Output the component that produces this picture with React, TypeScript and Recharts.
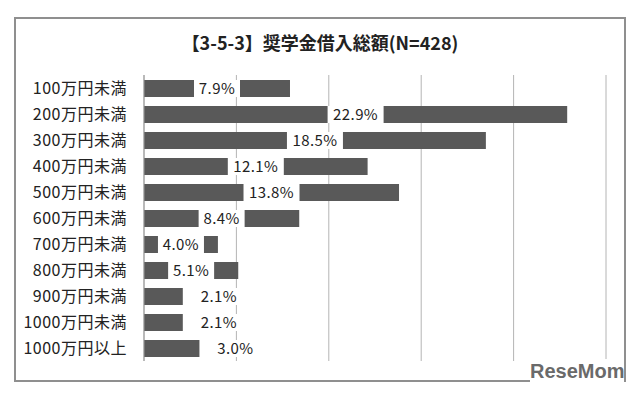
import React from "react";
import { Bar, BarChart, CartesianGrid, LabelList, XAxis, YAxis } from "recharts";

// ---------------------------------------------------------------------------
// Data
// ---------------------------------------------------------------------------

const TITLE = "【3-5-3】奨学金借入総額(N=428)";

const CATEGORIES = [
  "100万円未満",
  "200万円未満",
  "300万円未満",
  "400万円未満",
  "500万円未満",
  "600万円未満",
  "700万円未満",
  "800万円未満",
  "900万円未満",
  "1000万円未満",
  "1000万円以上",
];

const SHARES = [7.9, 22.9, 18.5, 12.1, 13.8, 8.4, 4.0, 5.1, 2.1, 2.1, 3.0];

const X_TICKS = [0, 5, 10, 15, 20, 25];

const data = CATEGORIES.map((name, i) => ({ name, value: SHARES[i] }));

// ---------------------------------------------------------------------------
// Styles
// ---------------------------------------------------------------------------

const FONT = '"Noto Sans CJK JP", "Noto Sans", sans-serif';
const BAR_COLOR = "#595959";
const GRID_COLOR = "#b4b4b4";
const TEXT_COLOR = "#222";

// label sits in a white box centred on the bar; short bars get it just past the end
function ValueLabel(props: any) {
  const { x, y, width, height, value } = props;
  const text = `${Number(value).toFixed(1)}%`;
  const boxW = text.length * 10 + 6;
  const cy = y + height / 2;
  const cx = value < 3.5 ? x + width + 36 : x + width / 2;
  return (
    <g>
      <rect x={cx - boxW / 2} y={y} width={boxW} height={height} fill="#fff" />
      <text
        x={cx}
        y={cy}
        dy="0.36em"
        textAnchor="middle"
        fontFamily={FONT}
        fontSize={15}
        letterSpacing={0.4}
        fill={TEXT_COLOR}
      >
        {text}
      </text>
    </g>
  );
}

export default function App() {
  return (
    <div
      style={{
        position: "absolute",
        left: 0,
        top: 0,
        width: 640,
        height: 396,
        background: "#fff",
        fontFamily: FONT,
      }}
    >
      <div
        style={{
          position: "absolute",
          left: 14,
          top: 17,
          width: 608,
          height: 361,
          border: "2px solid #8f8f8f",
        }}
      />
      <div
        style={{
          position: "absolute",
          left: 0,
          top: 29,
          width: 640,
          textAlign: "center",
          fontSize: 18,
          fontWeight: 700,
          color: TEXT_COLOR,
        }}
      >
        {TITLE}
      </div>
      <div style={{ position: "absolute", left: 0, top: 0 }}>
        <BarChart
          width={640}
          height={396}
          data={data}
          layout="vertical"
          margin={{ top: 75, right: 34, bottom: 35, left: 0 }}
          barSize={17}
        >
          <CartesianGrid horizontal={false} stroke={GRID_COLOR} />
          <XAxis type="number" domain={[0, 25]} ticks={X_TICKS} hide />
          <YAxis
            type="category"
            dataKey="name"
            width={144}
            axisLine={{ stroke: "#999" }}
            tickLine={false}
            tick={{ fontSize: 16, fill: TEXT_COLOR, fontFamily: FONT, letterSpacing: 0.5 }}
            tickMargin={11}
            interval={0}
          />
          <Bar dataKey="value" fill={BAR_COLOR} isAnimationActive={false}>
            <LabelList dataKey="value" content={ValueLabel} />
          </Bar>
        </BarChart>
      </div>
      <div
        style={{
          position: "absolute",
          left: 530,
          top: 359,
          fontFamily: '"Liberation Sans", Arial, sans-serif',
          fontSize: 20,
          fontWeight: 700,
          color: "#6a6a6a",
          background: "#fff",
          lineHeight: "24px",
        }}
      >
        ReseMom
      </div>
    </div>
  );
}
